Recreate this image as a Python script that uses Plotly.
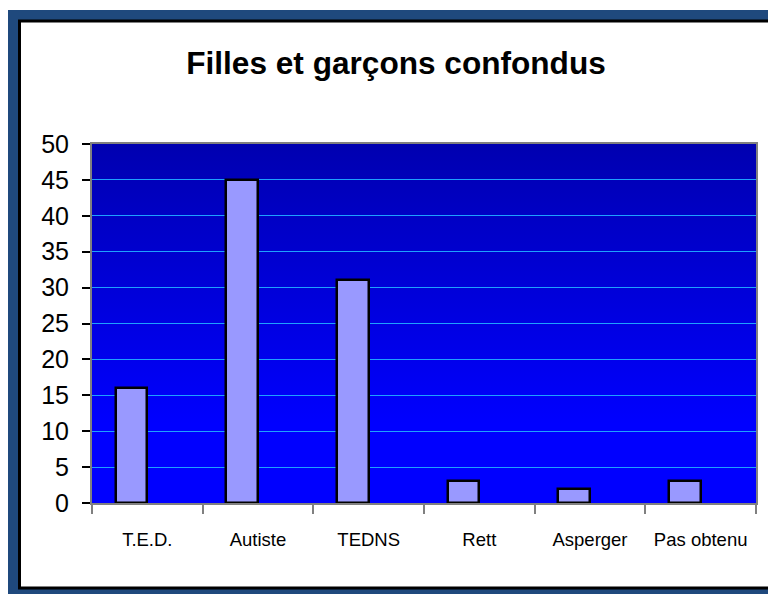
import base64
import plotly.graph_objects as go

# Data
categories = ["T.E.D.", "Autiste", "TEDNS", "Rett", "Asperger", "Pas obtenu"]
values = [16, 45, 31, 3, 2, 3]
title_text = "Filles et garçons confondus"

# the page places the figure 8px from the top-left corner
W, H = 768, 586
L, R, T, B = 84, 20, 136, 91
pw, ph = W - L - R, H - T - B

def px_x(x):
    return (x - L) / pw

def px_y(y):
    return 1 - (y - T) / ph

svg = ('<svg xmlns="http://www.w3.org/2000/svg" width="10" height="100" viewBox="0 0 10 100" '
       'preserveAspectRatio="none"><defs><linearGradient id="g" x1="0" y1="0" x2="0" y2="1">'
       '<stop offset="0" stop-color="#0000B0"/><stop offset="0.78" stop-color="#0000FF"/>'
       '<stop offset="1" stop-color="#0000FF"/></linearGradient></defs>'
       '<rect x="0" y="0" width="10" height="100" fill="url(#g)"/></svg>')
src = "data:image/svg+xml;base64," + base64.b64encode(svg.encode()).decode()

font = "Arial, Liberation Sans, sans-serif"

fig = go.Figure()
fig.add_trace(go.Bar(
    x=categories, y=values, width=0.286, offset=-0.286,
    marker=dict(color="#9999FF", line=dict(color="black", width=2.5)),
    showlegend=False,
))

fig.update_layout(
    width=W, height=H,
    margin=dict(l=L, r=R, t=T, b=B),
    paper_bgcolor="white",
    plot_bgcolor="rgba(0,0,0,0)",
    title=dict(text="<b>" + title_text + "</b>", font=dict(family=font, size=31.6, color="black"),
               x=388 / W, xanchor="center", xref="container",
               y=1 - 55 / H, yanchor="middle", yref="container"),
    xaxis=dict(type="category", tickson="boundaries", ticks="outside", ticklen=9,
               tickwidth=2, tickcolor="#808080", showline=True, linecolor="#808080",
               linewidth=2, mirror=True, showgrid=False, range=[-0.5, 5.5],
               tickfont=dict(family=font, size=18.5, color="black"), ticklabelstandoff=19),
    yaxis=dict(range=[0, 50], dtick=5, ticks="outside", ticklen=8, tickwidth=2,
               tickcolor="black", showline=True, linecolor="#808080", linewidth=2,
               mirror=True, showgrid=True, gridcolor="#1EA0FF", gridwidth=1.2,
               zeroline=False,
               tickfont=dict(family=font, size=25, color="black"), ticklabelstandoff=8),
    shapes=[
        dict(type="rect", xref="paper", yref="paper", layer="below",
             x0=px_x(0), x1=px_x(768), y0=px_y(2), y1=px_y(586),
             fillcolor="#1F497D", line=dict(width=0)),
        dict(type="rect", xref="paper", yref="paper", layer="below",
             x0=px_x(11.5), x1=px_x(762), y0=px_y(13), y1=px_y(580),
             fillcolor="white", line=dict(color="black", width=3)),
    ],
    images=[dict(source=src, xref="x", yref="y", x=-0.5, y=50, sizex=6, sizey=50,
                 xanchor="left", yanchor="top", sizing="stretch", layer="below")],
    bargap=0,
)

fig.write_html("out.html")
